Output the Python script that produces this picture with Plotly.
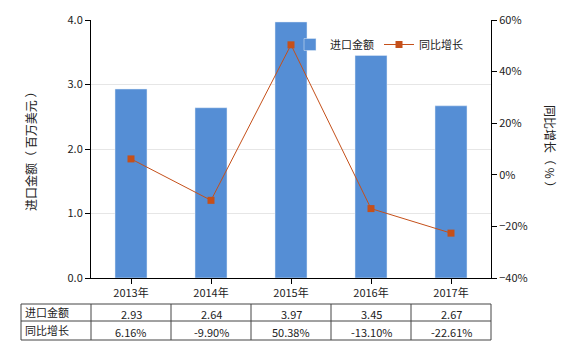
import plotly.graph_objects as go

years = ["2013年", "2014年", "2015年", "2016年", "2017年"]
import_value = [2.93, 2.64, 3.97, 3.45, 2.67]
growth = [6.16, -9.90, 50.38, -13.10, -22.61]
value_labels = ["2.93", "2.64", "3.97", "3.45", "2.67"]
growth_labels = ["6.16%", "-9.90%", "50.38%", "-13.10%", "-22.61%"]
row_names = ["进口金额", "同比增长"]

W, H = 580, 350
L, R, T, B = 91, 89, 20, 72
pw, ph = W - L - R, H - T - B

def px_x(x):
    return (x - L) / pw

def px_y(y):
    return (H - B - y) / ph

BAR = "#558ED5"
LINE = "#C5501A"
FONT = "Noto Sans CJK SC, sans-serif"

fig = go.Figure()
fig.add_trace(go.Bar(x=years, y=import_value, name="进口金额", marker_color=BAR,
                     width=0.4, yaxis="y"))
fig.add_trace(go.Scatter(x=years, y=growth, name="同比增长", mode="lines+markers",
                         line=dict(color=LINE, width=1),
                         marker=dict(symbol="square", size=7, color=LINE),
                         yaxis="y2"))

shapes = []
annotations = []
# table lines
y_top, y_mid, y_bot = px_y(304), px_y(321), px_y(340)
x_left = px_x(21)
line_style = dict(color="#444", width=1)
for yy in (y_top, y_mid, y_bot):
    shapes.append(dict(type="line", xref="paper", yref="paper", x0=x_left, x1=1,
                       y0=yy, y1=yy, line=line_style))
shapes.append(dict(type="line", xref="paper", yref="paper", x0=x_left, x1=x_left,
                   y0=y_top, y1=y_bot, line=line_style))
for i in range(len(years) + 1):
    xx = px_x(L + i * pw / len(years))
    shapes.append(dict(type="line", xref="paper", yref="paper", x0=xx, x1=xx,
                       y0=y_top, y1=y_bot, line=line_style))

row_y = [px_y(313.5), px_y(331.5)]
for r, name in enumerate(row_names):
    annotations.append(dict(text=name, xref="paper", yref="paper", x=px_x(23), y=row_y[r] + 0.006,
                            xanchor="left", yanchor="middle", showarrow=False,
                            font=dict(size=11, color="#222", family=FONT)))
for i in range(len(years)):
    cx = px_x(L + (i + 0.5) * pw / len(years))
    annotations.append(dict(text=value_labels[i], xref="paper", yref="paper", x=cx, y=row_y[0],
                            xanchor="center", yanchor="middle", showarrow=False,
                            font=dict(size=11, color="#222", family=FONT)))
    annotations.append(dict(text=growth_labels[i], xref="paper", yref="paper", x=cx, y=row_y[1],
                            xanchor="center", yanchor="middle", showarrow=False,
                            font=dict(size=11, color="#222", family=FONT)))

annotations.append(dict(text="进口金额（ 百万美元 ）", xref="paper", yref="paper",
                        x=px_x(30), y=0.5, textangle=-90, showarrow=False,
                        xanchor="center", yanchor="middle",
                        font=dict(size=12, color="#222", family=FONT)))
annotations.append(dict(text="同比增长（ % ）", xref="paper", yref="paper",
                        x=px_x(551), y=0.5, textangle=90, showarrow=False,
                        xanchor="center", yanchor="middle",
                        font=dict(size=12, color="#222", family=FONT)))

fig.update_layout(
    width=W, height=H,
    margin=dict(l=L, r=R, t=T, b=B),
    paper_bgcolor="white", plot_bgcolor="white",
    font=dict(family=FONT, size=11, color="#222"),
    showlegend=True,
    legend=dict(orientation="h", x=px_x(290), y=px_y(30), xanchor="left", yanchor="top",
                bgcolor="rgba(0,0,0,0)", font=dict(size=11, family=FONT)),
    xaxis=dict(range=[-0.5, 4.5], showline=True, linecolor="#000", linewidth=1,
               ticks="outside", ticklen=5, tickcolor="#000", showgrid=False),
    yaxis=dict(range=[0, 4], dtick=1, tickformat=".1f", showline=True, linecolor="#000",
               linewidth=1, ticks="outside", ticklen=5, tickcolor="#000",
               showgrid=True, gridcolor="#e6e6e6", zeroline=False),
    yaxis2=dict(range=[-40, 60], dtick=20, ticksuffix="%", overlaying="y", side="right",
                showline=True, linecolor="#000", linewidth=1, ticks="outside", ticklen=5,
                tickcolor="#000", showgrid=False, zeroline=False),
    shapes=shapes, annotations=annotations,
)

fig.write_html("out.html")
